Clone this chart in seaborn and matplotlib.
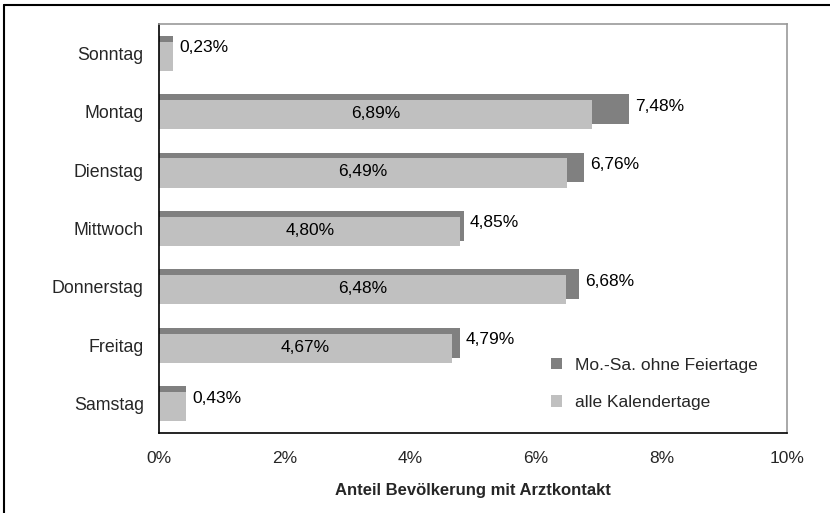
import matplotlib
matplotlib.use("Agg")
import matplotlib.pyplot as plt
import seaborn as sns
import pandas as pd
from matplotlib.lines import Line2D
from matplotlib.patches import Patch

days = ["Sonntag", "Montag", "Dienstag", "Mittwoch", "Donnerstag", "Freitag", "Samstag"]
werktage = [0.23, 7.48, 6.76, 4.85, 6.68, 4.79, 0.43]      # Mo.-Sa. ohne Feiertage
kalendertage = [0.23, 6.89, 6.49, 4.80, 6.48, 4.67, 0.43]  # alle Kalendertage
werktage_labels = ["0,23%", "7,48%", "6,76%", "4,85%", "6,68%", "4,79%", "0,43%"]
kalender_labels = ["", "6,89%", "6,49%", "4,80%", "6,48%", "4,67%", ""]
xticks = [0, 2, 4, 6, 8, 10]
xticklabels = ["0%", "2%", "4%", "6%", "8%", "10%"]
series_names = ["Mo.-Sa. ohne Feiertage", "alle Kalendertage"]

DARK = "#808080"
LIGHT = "#C0C0C0"
FS = 12.5

sns.set_style("white")
plt.rcParams["font.family"] = ["Liberation Sans", "DejaVu Sans"]
plt.rcParams["font.size"] = FS

df = pd.DataFrame({"Tag": days, "werk": werktage, "kal": kalendertage})

fig = plt.figure(figsize=(8.3, 5.13), dpi=100)
ax = fig.add_axes([159/830, 1 - 433/513, (787 - 159)/830, (433 - 24)/513])

sns.barplot(data=df, x="werk", y="Tag", orient="h", width=0.51, color=DARK,
            saturation=1, ax=ax, linewidth=0)
n_dark = len(ax.patches)
for p in ax.patches:
    p.set_y(p.get_y() - 0.045)
sns.barplot(data=df, x="kal", y="Tag", orient="h", width=0.50, color=LIGHT,
            saturation=1, ax=ax, linewidth=0)
for p in ax.patches[n_dark:]:
    p.set_y(p.get_y() + 0.05)

# data labels
for i, (v, lab) in enumerate(zip(werktage, werktage_labels)):
    ax.text(v + 0.1, i - 0.095, lab, ha="left", va="center", fontsize=FS, color="black")
for i, (v, lab) in enumerate(zip(kalendertage, kalender_labels)):
    if lab:
        ax.text(v / 2, i + 0.03, lab, ha="center", va="center", fontsize=FS, color="black")

ax.set_xlim(0, 10)
ax.set_ylim(6.5, -0.5)
ax.set_xticks(xticks)
ax.set_xticklabels(xticklabels)
ax.set_xlabel("Anteil Bevölkerung mit Arztkontakt", fontweight="bold", fontsize=12, labelpad=12)
ax.set_ylabel("")
ax.tick_params(axis="x", direction="out", length=5, width=1, color="black", pad=8, labelsize=FS)
ax.tick_params(axis="y", length=0, pad=11, labelsize=12.8)

for s in ["left", "bottom"]:
    ax.spines[s].set_color("black")
    ax.spines[s].set_linewidth(1.2)
for s in ["top", "right"]:
    ax.spines[s].set_color("#999999")
    ax.spines[s].set_linewidth(1.2)

handles = [Patch(facecolor=DARK, edgecolor="none"), Patch(facecolor=LIGHT, edgecolor="none")]
ax.legend(handles, series_names, loc="lower right", bbox_to_anchor=(0.986, 0.005),
          frameon=False, fontsize=FS, handlelength=0.65, handleheight=0.65,
          handletextpad=0.7, labelspacing=1.3, borderaxespad=0.8)

# outer frame (top and left edges)
fig.add_artist(Line2D([4/830, 4/830], [0, 1 - 5/513], color="black", lw=1.5,
                      transform=fig.transFigure))
fig.add_artist(Line2D([4/830, 1], [1 - 5/513, 1 - 5/513], color="black", lw=1.5,
                      transform=fig.transFigure))

fig.savefig("out.png", dpi=100)
